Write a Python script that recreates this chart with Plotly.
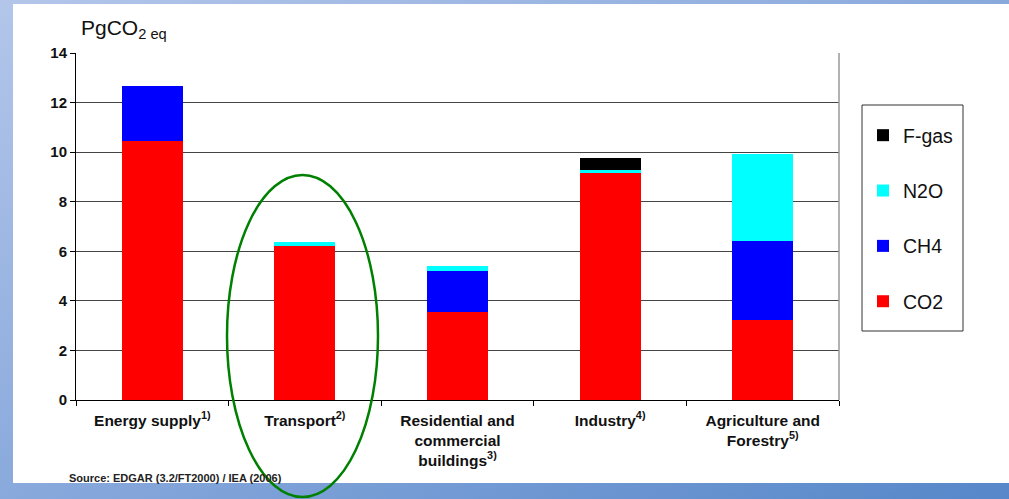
import base64
import plotly.graph_objects as go

categories = [
    "Energy supply<sup>1)</sup>",
    "Transport<sup>2)</sup>",
    "Residential and<br>commercial<br>buildings<sup>3)</sup>",
    "Industry<sup>4)</sup>",
    "Agriculture and<br>Forestry<sup>5)</sup>",
]
co2 = [10.44, 6.21, 3.55, 9.14, 3.24]
ch4 = [2.22, 0.0, 1.65, 0.0, 3.17]
n2o = [0.0, 0.15, 0.20, 0.13, 3.52]
fgas = [0.0, 0.0, 0.0, 0.51, 0.0]
y_ticks = [0, 2, 4, 6, 8, 10, 12, 14]

W, H = 1009, 499
L, R, T, B = 76, 170, 53, 99
PW, PH = W - L - R, H - T - B


def px(x):
    return (x - L) / PW


def py(y):
    return (H - B - y) / PH


FONT = "Liberation Sans, Arial, sans-serif"

svg = f"""<svg xmlns='http://www.w3.org/2000/svg' width='{W}' height='{H}'>
<defs><linearGradient id='g' x1='0' y1='0' x2='1' y2='1'>
<stop offset='0' stop-color='#b3c6ea'/><stop offset='0.5' stop-color='#89a9dc'/><stop offset='1' stop-color='#5687c9'/>
</linearGradient></defs>
<rect width='{W}' height='{H}' fill='url(#g)'/>
<rect x='13' y='4' width='{W-13}' height='479' fill='white'/>
</svg>"""
bg = "data:image/svg+xml;base64," + base64.b64encode(svg.encode()).decode()

fig = go.Figure()
series = [("CO2", co2, "#ff0000", 4), ("CH4", ch4, "#0000ff", 3),
          ("N2O", n2o, "#00ffff", 2), ("F-gas", fgas, "#000000", 1)]
for name, vals, col, rank in series:
    fig.add_trace(go.Bar(x=categories, y=vals, name=name, legendgroup=name, legendrank=rank,
                         marker=dict(color=col, line=dict(width=0))))

fig.update_layout(
    width=W, height=H,
    margin=dict(l=L, r=R, t=T, b=B, autoexpand=False),
    barmode="stack", bargap=0.6,
    paper_bgcolor="white", plot_bgcolor="rgba(0,0,0,0)",
    font=dict(family=FONT, color="#111", size=13),
    showlegend=True,
    legend=dict(x=px(863), y=py(116), xanchor="left", yanchor="top",
                traceorder="grouped", tracegroupgap=27,
                font=dict(size=19.5, family=FONT, color="#111"),
                bgcolor="rgba(0,0,0,0)", borderwidth=0, itemwidth=30),
    images=[dict(source=bg, xref="paper", yref="paper", x=px(0), y=py(0),
                 sizex=W / PW, sizey=H / PH, xanchor="left", yanchor="top",
                 sizing="stretch", layer="below")],
    xaxis=dict(showline=True, linecolor="black", linewidth=1, ticks="outside",
               tickson="boundaries", ticklen=5, tickcolor="black", ticklabelstandoff=6,
               tickfont=dict(size=15.5, family=FONT, weight="bold", color="#111"),
               showgrid=False),
    yaxis=dict(range=[0, 14], tickvals=y_ticks, showline=True, linecolor="black",
               linewidth=1, ticks="outside", ticklen=5, tickcolor="black",
               tickfont=dict(size=15, family=FONT, weight="bold", color="#111"),
               showgrid=True, gridcolor="#444", gridwidth=1.3, zeroline=False),
    shapes=[
        dict(type="line", xref="paper", yref="paper", x0=1, x1=1, y0=0, y1=1,
             line=dict(color="#999", width=1.5)),
        dict(type="rect", xref="paper", yref="paper", x0=px(862), x1=px(963),
             y0=py(331), y1=py(105), line=dict(color="#333", width=1)),
        dict(type="circle", xref="paper", yref="paper", x0=px(227), x1=px(378),
             y0=py(497), y1=py(175), line=dict(color="#008000", width=2.5)),
    ],
    annotations=[
        dict(text="PgCO<sub>2 eq</sub>", xref="paper", yref="paper", x=px(79), y=py(29),
             xanchor="left", yanchor="middle", showarrow=False,
             font=dict(size=21, family=FONT, color="#111")),
        dict(text="Source: EDGAR (3.2/FT2000) / IEA (2006)", xref="paper", yref="paper",
             x=px(67), y=py(478), xanchor="left", yanchor="middle", showarrow=False,
             font=dict(size=11, family=FONT, weight="bold", color="#222")),
    ],
)

fig.write_html("out.html", config={"displayModeBar": False},
               post_script="document.body.style.margin='0';")
